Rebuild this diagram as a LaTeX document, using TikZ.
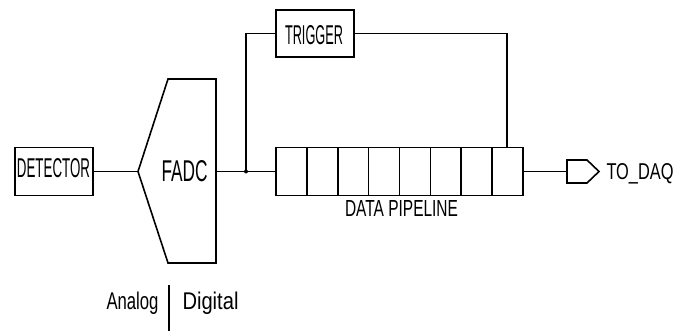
\documentclass[tikz,border=0pt]{standalone}
\usepackage{fontspec}
\setmainfont{Liberation Sans}
\usepackage{graphicx}
\newcommand{\sqz}[3]{\resizebox{#1pt}{#2pt}{#3}}
\begin{document}
\begin{tikzpicture}[x=1pt,y=-1pt,line width=1.6pt,
  blk/.style={draw,rectangle,inner sep=0pt},
  lbl/.style={inner sep=0pt,outer sep=0pt}]
\useasboundingbox (0,0) rectangle (677,331);
% detector
\node[blk,minimum width=78pt,minimum height=48pt] (det) at (54,171.5) {};
\node[lbl] (dett) at (53.5,168.5) {\sqz{73}{19}{DETECTOR}};
% FADC shape
\coordinate (fin) at (138,171.5);
\coordinate (fout) at (216,171.5);
\draw (216,79) -- (168,79) -- (fin) -- (168,263) -- (216,263) -- cycle;
\node[lbl] (fadc) at (184.5,171) {\sqz{46}{21}{FADC}};
% trigger
\node[blk,minimum width=78pt,minimum height=47pt] (trig) at (315,33.5) {};
\node[lbl] (trigt) at (314,35) {\sqz{58}{19}{TRIGGER}};
% pipeline
\node[blk,minimum width=247pt,minimum height=48pt] (pipe) at (399.5,171.5) {};
\foreach \k in {1,...,7} {
  \draw ({276+\k*30.875},147.5) -- ({276+\k*30.875},195.5);
}
\node[lbl] (pipet) at (401.5,208.5) {\sqz{113}{16}{DATA PIPELINE}};
% junction
\coordinate (jn) at (246,171.5);
\coordinate (ptop) at (507,147.5);
\draw (det.east) -- (fin);
\draw (fout) -- (pipe.west);
\fill (jn) circle (2pt);
\draw (jn) |- (trig.west);
\draw (trig.east) -| (ptop);
% output
\coordinate (dq) at (567,171.5);
\draw (pipe.east) -- (dq);
\draw (dq) -- (567,160) -- (587,160) -- (599,171.5) -- (587,183) -- (567,183) -- cycle;
\node[lbl,anchor=west] (daqt) at (606.5,174) {\sqz{67}{16}{TO\_DAQ}};
% analog / digital
\coordinate (ad1) at (169,285);
\coordinate (ad2) at (169,331);
\draw (ad1) -- (ad2);
\node[lbl,anchor=base west] (an) at (106.5,309) {\sqz{52}{17.5}{Analog}};
\node[lbl,anchor=base west] (dg) at (182.5,309) {\sqz{56}{17.5}{Digital}};
\end{tikzpicture}
\end{document}
